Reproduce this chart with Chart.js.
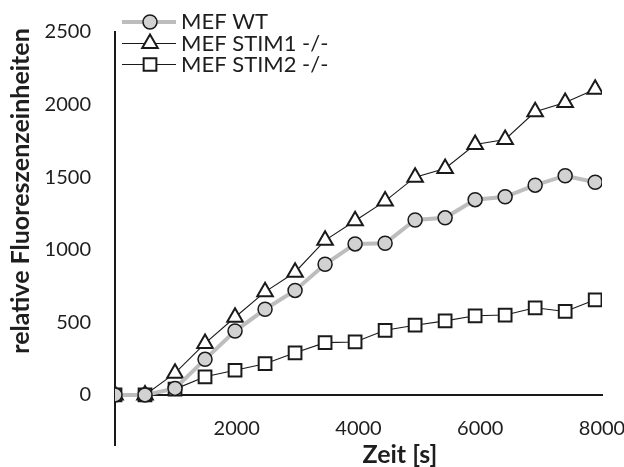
<!DOCTYPE html>
<html>
<head>
<meta charset="utf-8">
<script src="https://cdn.jsdelivr.net/npm/chart.js@4"></script>
<style>
  html, body { margin: 0; padding: 0; background: #fff; }
  #wrap { width: 624px; height: 467px; position: relative; }
</style>
</head>
<body>
<div id="wrap"><canvas id="fluoChart"></canvas></div>
<script>
// --- Data ---
const times = [0, 493, 986, 1479, 1972, 2465, 2958, 3451, 3944, 4437, 4930, 5423, 5916, 6409, 6902, 7395, 7888];
const mefWT = [0, 0, 45, 245, 440, 590, 720, 900, 1040, 1045, 1205, 1220, 1345, 1365, 1445, 1510, 1465];
const mefStim1 = [0, 0, 150, 355, 535, 710, 845, 1065, 1200, 1335, 1500, 1560, 1725, 1760, 1950, 2015, 2105];
const mefStim2 = [0, 0, 40, 125, 170, 215, 290, 360, 365, 445, 480, 510, 545, 550, 600, 575, 655];
const seriesNames = ['MEF WT', 'MEF STIM1 -/-', 'MEF STIM2 -/-'];
const xTicks = [2000, 4000, 6000, 8000];
const yTicks = [0, 500, 1000, 1500, 2000, 2500];
const xTitle = 'Zeit [s]';
const yTitle = 'relative Fluoreszenzeinheiten';

const FONT = "Lato, 'Open Sans', sans-serif";
const TEXT = '#1e1e1e';

const toPoints = vals => vals.map((v, i) => ({ x: times[i], y: v }));

// no label overhang padding, the plot box is fixed by layout.padding
const noOverhang = scale => {
    scale.paddingLeft = 0;
    scale.paddingRight = 0;
    scale.paddingTop = 0;
    scale.paddingBottom = 0;
};

// --- Legend drawn over the plot, top left ---
const overlayLegend = {
    id: 'overlayLegend',
    afterDraw(chart) {
        const c = chart.ctx;
        const rows = [22, 43.5, 64.5];
        chart.data.datasets.forEach((ds, i) => {
            const y = rows[i];
            c.save();
            c.strokeStyle = ds.borderColor;
            c.lineWidth = ds.borderWidth;
            c.beginPath();
            c.moveTo(122, y);
            c.lineTo(176, y);
            c.stroke();
            c.fillStyle = ds.pointBackgroundColor;
            c.strokeStyle = ds.pointBorderColor;
            c.lineWidth = ds.pointBorderWidth;
            Chart.helpers.drawPoint(c, {
                pointStyle: ds.pointStyle,
                radius: ds.pointRadius,
                borderWidth: ds.pointBorderWidth,
                rotation: 0
            }, 150, y);
            c.fillStyle = TEXT;
            c.font = '22px ' + FONT;
            c.textBaseline = 'middle';
            c.fillText(ds.label, 181, y);
            c.restore();
        });
    }
};

// --- Axis titles placed freely ---
const axisTitles = {
    id: 'axisTitles',
    afterDraw(chart) {
        const c = chart.ctx;
        c.save();
        c.fillStyle = TEXT;
        c.font = 'bold 25px ' + FONT;
        c.textAlign = 'center';
        c.textBaseline = 'middle';
        c.fillText(xTitle, 400, 455);
        c.translate(21, 191);
        c.rotate(-Math.PI / 2);
        c.fillText(yTitle, 0, 0);
        c.restore();
    }
};

const ctx = document.getElementById('fluoChart').getContext('2d');
const fluoChart = new Chart(ctx, {
    type: 'line',
    data: {
        datasets: [
            {
                label: seriesNames[0], data: toPoints(mefWT),
                borderColor: '#bdbdbd', borderWidth: 4,
                pointStyle: 'circle', pointRadius: 7, pointBorderWidth: 1.5,
                pointBackgroundColor: '#d2d2d2', pointBorderColor: '#1a1a1a'
            },
            {
                label: seriesNames[1], data: toPoints(mefStim1),
                borderColor: '#1a1a1a', borderWidth: 1.1,
                pointStyle: 'triangle', pointRadius: 9, pointBorderWidth: 2,
                pointBackgroundColor: '#ffffff', pointBorderColor: '#1a1a1a'
            },
            {
                label: seriesNames[2], data: toPoints(mefStim2),
                borderColor: '#1a1a1a', borderWidth: 1.1,
                pointStyle: 'rect', pointRadius: 9, pointBorderWidth: 2,
                pointBackgroundColor: '#ffffff', pointBorderColor: '#1a1a1a'
            }
        ]
    },
    options: {
        responsive: true,
        maintainAspectRatio: false,
        animation: false,
        layout: { padding: { left: 0, right: 22, top: 32, bottom: 22 } },
        plugins: {
            legend: { display: false },
            title: { display: false },
            tooltip: { enabled: false }
        },
        scales: {
            x: {
                type: 'linear',
                min: 0, max: 8000,
                position: { y: 0 },
                grid: { display: false, drawTicks: false },
                border: { display: true, color: '#1a1a1a', width: 2 },
                afterBuildTicks: scale => { scale.ticks = xTicks.map(v => ({ value: v })); },
                afterFit: noOverhang,
                ticks: {
                    padding: 22,
                    maxRotation: 0,
                    color: TEXT,
                    font: { family: FONT, size: 20 },
                    callback: v => String(v)
                }
            },
            y: {
                type: 'linear',
                min: -345, max: 2500,
                grid: { display: false, drawTicks: false },
                border: { display: true, color: '#1a1a1a', width: 2 },
                afterBuildTicks: scale => { scale.ticks = yTicks.map(v => ({ value: v })); },
                afterFit: scale => { noOverhang(scale); scale.width = 115; },
                ticks: {
                    padding: 24,
                    color: TEXT,
                    font: { family: FONT, size: 20 },
                    callback: v => String(v)
                }
            }
        }
    },
    plugins: [overlayLegend, axisTitles]
});
</script>
</body>
</html>
